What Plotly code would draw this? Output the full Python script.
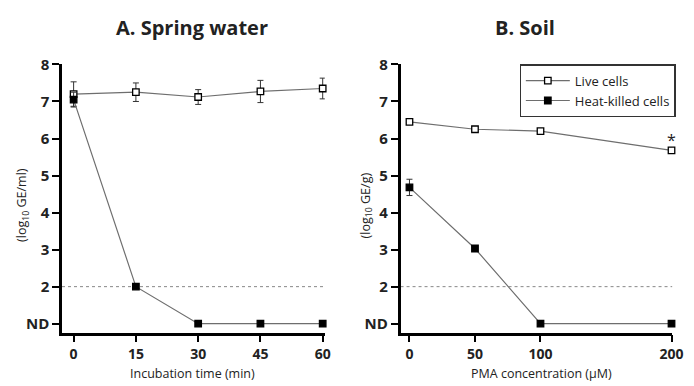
import plotly.graph_objects as go

# Panel A: spring water
time_min = [0, 15, 30, 45, 60]
a_live = [7.2, 7.25, 7.12, 7.27, 7.35]
a_live_err = [0.33, 0.25, 0.2, 0.3, 0.28]
a_heat = [7.05, 2.0, 1.0, 1.0, 1.0]
a_heat_err = [0.2, 0.0, 0.0, 0.0, 0.0]

# Panel B: soil
pma_um = [0, 50, 100, 200]
b_live = [6.45, 6.25, 6.2, 5.68]
b_live_err = [0.03, 0.03, 0.03, 0.07]
b_heat = [4.68, 3.03, 1.0, 1.0]
b_heat_err = [0.22, 0.08, 0.0, 0.0]

y_ticks = [1, 2, 3, 4, 5, 6, 7, 8]
y_ticktext = ["ND", "2", "3", "4", "5", "6", "7", "8"]
x_ticks_a = [0, 15, 30, 45, 60]
x_ticks_b = [0, 50, 100, 200]

W, H = 694, 386
def px(x): return x / W
def py(y): return 1 - y / H

FONT = "Open Sans"
line_col = "#6e6e6e"

fig = go.Figure()

def add_series(x, y, err, xa, ya, name, filled, show):
    fig.add_trace(go.Scatter(
        x=x, y=y, xaxis=xa, yaxis=ya, name=name, showlegend=show,
        mode="lines+markers", cliponaxis=False,
        line=dict(color=line_col, width=1.2),
        marker=dict(symbol="square", size=6.5,
                    color="black" if filled else "white",
                    line=dict(color="black", width=1.3)),
        error_y=dict(type="data", array=err, visible=True,
                     color="#333", thickness=1, width=3),
    ))

add_series(time_min, a_live, a_live_err, "x", "y", "Live cells", False, False)
add_series(time_min, a_heat, a_heat_err, "x", "y", "Heat-killed cells", True, False)
add_series(pma_um, b_live, b_live_err, "x2", "y2", "Live cells", False, True)
add_series(pma_um, b_heat, b_heat_err, "x2", "y2", "Heat-killed cells", True, True)

# dotted detection line at 2
fig.add_shape(type="line", xref="x domain", yref="y", x0=0, x1=1, y0=2, y1=2,
              line=dict(color="#888", width=1, dash="dot"), layer="below")
fig.add_shape(type="line", xref="x2 domain", yref="y2", x0=0, x1=1, y0=2, y1=2,
              line=dict(color="#888", width=1, dash="dot"), layer="below")

ydom = [py(331), py(55)]
axis_common = dict(showline=True, linecolor="black", linewidth=2.5,
                   ticks="outside", ticklen=7, tickwidth=2.2, tickcolor="black",
                   showgrid=False, zeroline=False)
yax = dict(axis_common, range=[0.76, 8.0], tickvals=y_ticks, ticktext=y_ticktext,
           tickfont=dict(family=FONT, size=15, color="#222", weight="bold"),
           domain=ydom)

fig.update_layout(
    width=W, height=H,
    margin=dict(l=0, r=0, t=0, b=0),
    paper_bgcolor="white", plot_bgcolor="white",
    xaxis=dict(axis_common, domain=[px(63), px(330)], range=[-2.8, 60.5],
               tickvals=x_ticks_a, anchor="y",
               tickfont=dict(family=FONT, size=14, color="#222", weight="bold")),
    yaxis=dict(yax, anchor="x"),
    xaxis2=dict(axis_common, domain=[px(407), px(683)], range=[-6.8, 200.5],
                tickvals=x_ticks_b, anchor="y2",
                tickfont=dict(family=FONT, size=14, color="#222", weight="bold")),
    yaxis2=dict(yax, anchor="x2"),
    showlegend=True,
    legend=dict(x=px(528), y=py(55), xanchor="left", yanchor="top",
                bordercolor="#333", borderwidth=1.2, bgcolor="white",
                font=dict(family=FONT, size=13, color="#222"),
                tracegroupgap=2, itemwidth=44),
)

annos = [
    dict(text="<b>A. Spring water</b>", x=px(195), y=py(17), font=dict(size=20)),
    dict(text="<b>B. Soil</b>", x=px(533), y=py(17), font=dict(size=20)),
    dict(text="Incubation time (min)", x=px(196), y=py(373), font=dict(size=12.5)),
    dict(text="PMA concentration (\u03bcM)", x=px(550), y=py(373), font=dict(size=12.5)),
    dict(text="(log<sub>10</sub> GE/ml)", x=px(23), y=py(200), textangle=-90, font=dict(size=12.5)),
    dict(text="(log<sub>10</sub> GE/g)", x=px(372), y=py(200), textangle=-90, font=dict(size=12.5)),
]
for a in annos:
    a["font"].update(family=FONT, color="#222")
    fig.add_annotation(xref="paper", yref="paper", showarrow=False,
                       xanchor="center", yanchor="middle", **a)

fig.add_annotation(x=200, y=5.95, xref="x2", yref="y2", text="*", showarrow=False,
                   font=dict(family=FONT, size=16, color="#222"))

fig.write_html("out.html")
